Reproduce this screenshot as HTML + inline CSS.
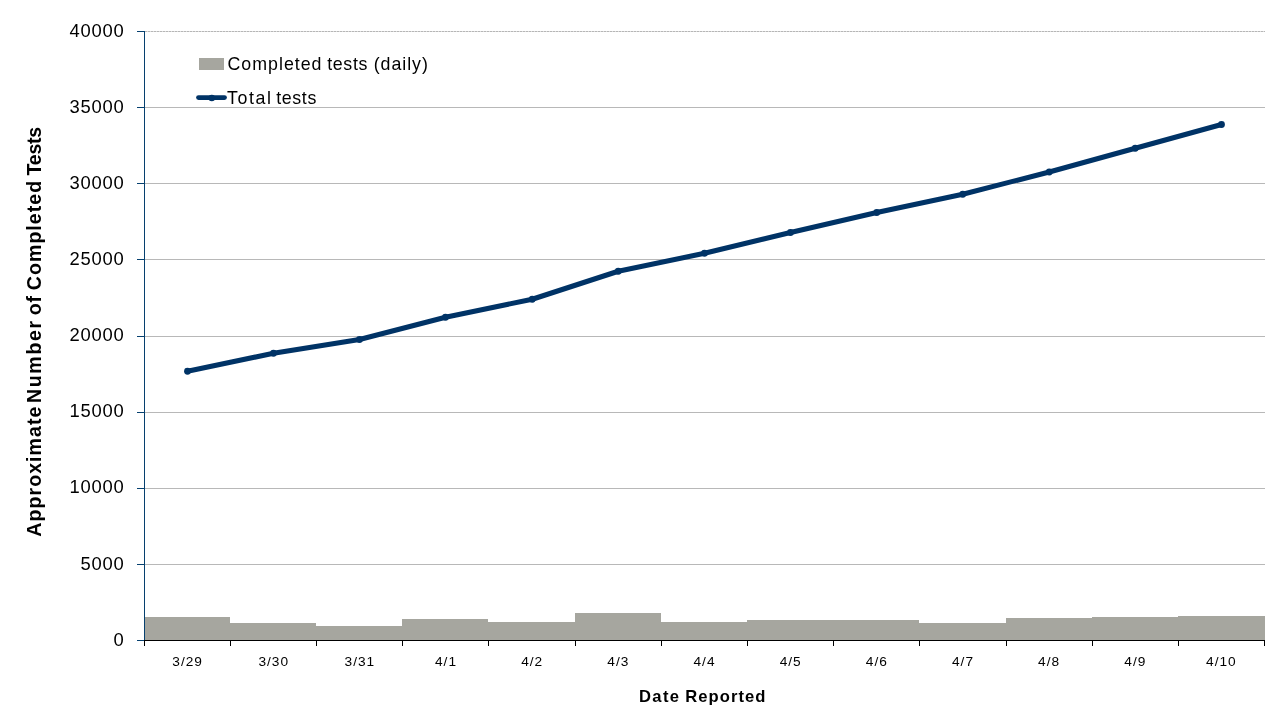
<!DOCTYPE html>
<html lang="en"><head><meta charset="utf-8"><title>Completed tests by date reported</title>
<style>
html,body{margin:0;padding:0;background:#fff;}
body{width:1280px;height:720px;overflow:hidden;font-family:"Liberation Sans",sans-serif;}
svg{display:block;}
text{font-family:"Liberation Sans",sans-serif;fill:#000;}
.yl{font-size:18.4px;text-anchor:end;letter-spacing:0.75px;}
.xl{font-size:13.7px;text-anchor:middle;letter-spacing:1.0px;}
.lg{font-size:17.8px;}
.xt{font-size:16.6px;font-weight:bold;}
.yt{font-size:19.6px;font-weight:bold;}
</style></head><body>
<svg width="1280" height="720" viewBox="0 0 1280 720">
<rect width="1280" height="720" fill="#fff"/>
<g shape-rendering="crispEdges">
<rect x="145" y="564" width="1120" height="1" fill="#b8b8b8"/>
<rect x="145" y="488" width="1120" height="1" fill="#b8b8b8"/>
<rect x="145" y="412" width="1120" height="1" fill="#b8b8b8"/>
<rect x="145" y="336" width="1120" height="1" fill="#b8b8b8"/>
<rect x="145" y="259" width="1120" height="1" fill="#b8b8b8"/>
<rect x="145" y="183" width="1120" height="1" fill="#b8b8b8"/>
<rect x="145" y="107" width="1120" height="1" fill="#b8b8b8"/>
<rect x="145" y="31" width="1120" height="1" fill="#dcdcdc"/>
<line x1="145" y1="31.5" x2="1265" y2="31.5" stroke="#b6b6b6" stroke-width="1" stroke-dasharray="2 1"/>
<rect x="145" y="617" width="85" height="23" fill="#a6a69f"/>
<rect x="230" y="623" width="86" height="17" fill="#a6a69f"/>
<rect x="316" y="626" width="86" height="14" fill="#a6a69f"/>
<rect x="402" y="619" width="86" height="21" fill="#a6a69f"/>
<rect x="488" y="622" width="87" height="18" fill="#a6a69f"/>
<rect x="575" y="613" width="86" height="27" fill="#a6a69f"/>
<rect x="661" y="622" width="86" height="18" fill="#a6a69f"/>
<rect x="747" y="620" width="86" height="20" fill="#a6a69f"/>
<rect x="833" y="620" width="86" height="20" fill="#a6a69f"/>
<rect x="919" y="623" width="87" height="17" fill="#a6a69f"/>
<rect x="1006" y="618" width="86" height="22" fill="#a6a69f"/>
<rect x="1092" y="617" width="86" height="23" fill="#a6a69f"/>
<rect x="1178" y="616" width="87" height="24" fill="#a6a69f"/>
<rect x="144" y="31" width="1" height="610" fill="#06406f"/>
<rect x="137" y="640" width="7" height="1" fill="#06406f"/>
<rect x="137" y="564" width="7" height="1" fill="#06406f"/>
<rect x="137" y="488" width="7" height="1" fill="#06406f"/>
<rect x="137" y="412" width="7" height="1" fill="#06406f"/>
<rect x="137" y="336" width="7" height="1" fill="#06406f"/>
<rect x="137" y="259" width="7" height="1" fill="#06406f"/>
<rect x="137" y="183" width="7" height="1" fill="#06406f"/>
<rect x="137" y="107" width="7" height="1" fill="#06406f"/>
<rect x="137" y="31" width="7" height="1" fill="#06406f"/>
<rect x="144" y="640" width="1121" height="1" fill="#000"/>
<rect x="144" y="640" width="1" height="6" fill="#000"/>
<rect x="230" y="640" width="1" height="6" fill="#000"/>
<rect x="316" y="640" width="1" height="6" fill="#000"/>
<rect x="402" y="640" width="1" height="6" fill="#000"/>
<rect x="488" y="640" width="1" height="6" fill="#000"/>
<rect x="575" y="640" width="1" height="6" fill="#000"/>
<rect x="661" y="640" width="1" height="6" fill="#000"/>
<rect x="747" y="640" width="1" height="6" fill="#000"/>
<rect x="833" y="640" width="1" height="6" fill="#000"/>
<rect x="919" y="640" width="1" height="6" fill="#000"/>
<rect x="1006" y="640" width="1" height="6" fill="#000"/>
<rect x="1092" y="640" width="1" height="6" fill="#000"/>
<rect x="1178" y="640" width="1" height="6" fill="#000"/>
<rect x="1264" y="640" width="1" height="6" fill="#000"/>
</g>
<polyline points="187.5,371.25 273.5,353.25 359.5,339.5 445.5,317.25 532.25,299.25 618.25,271.25 704.5,253.25 790.5,232.5 876.75,212.5 962.75,194.25 1049.25,172.0 1135.25,148.25 1221.5,124.5" fill="none" stroke="#003366" stroke-width="5" stroke-linejoin="round" stroke-linecap="round"/>
<circle cx="187.5" cy="371.25" r="3.4" fill="#003366"/>
<circle cx="273.5" cy="353.25" r="3.4" fill="#003366"/>
<circle cx="359.5" cy="339.5" r="3.4" fill="#003366"/>
<circle cx="445.5" cy="317.25" r="3.4" fill="#003366"/>
<circle cx="532.25" cy="299.25" r="3.4" fill="#003366"/>
<circle cx="618.25" cy="271.25" r="3.4" fill="#003366"/>
<circle cx="704.5" cy="253.25" r="3.4" fill="#003366"/>
<circle cx="790.5" cy="232.5" r="3.4" fill="#003366"/>
<circle cx="876.75" cy="212.5" r="3.4" fill="#003366"/>
<circle cx="962.75" cy="194.25" r="3.4" fill="#003366"/>
<circle cx="1049.25" cy="172.0" r="3.4" fill="#003366"/>
<circle cx="1135.25" cy="148.25" r="3.4" fill="#003366"/>
<circle cx="1221.5" cy="124.5" r="3.4" fill="#003366"/>
<rect x="199" y="58" width="25" height="12" fill="#a6a69f"/>
<line x1="198.5" y1="97.6" x2="224.5" y2="97.6" stroke="#003366" stroke-width="4.8" stroke-linecap="round"/>
<circle cx="211.8" cy="98" r="3.3" fill="#003366"/>
<g>
<text class="lg" x="227.5" y="69.8" style="letter-spacing:1.0px">Completed</text>
<text class="lg" x="327.25" y="69.8" style="letter-spacing:0.647px">tests</text>
<text class="lg" x="373.75" y="69.8" style="letter-spacing:0.943px">(daily)</text>
</g>
<g>
<text class="lg" x="227.1" y="103.9" style="letter-spacing:1.573px">Total</text>
<text class="lg" x="276.25" y="103.9" style="letter-spacing:0.622px">tests</text>
</g>
<text class="yl" x="124.5" y="645.7">0</text>
<text class="yl" x="124.5" y="569.6">5000</text>
<text class="yl" x="124.5" y="493.4">10000</text>
<text class="yl" x="124.5" y="417.3">15000</text>
<text class="yl" x="124.5" y="341.2">20000</text>
<text class="yl" x="124.5" y="265.1">25000</text>
<text class="yl" x="124.5" y="188.9">30000</text>
<text class="yl" x="124.5" y="112.8">35000</text>
<text class="yl" x="124.5" y="36.7">40000</text>
<text class="xl" x="187.6" y="665.8">3/29</text>
<text class="xl" x="273.7" y="665.8">3/30</text>
<text class="xl" x="359.9" y="665.8">3/31</text>
<text class="xl" x="446.0" y="665.8">4/1</text>
<text class="xl" x="532.2" y="665.8">4/2</text>
<text class="xl" x="618.3" y="665.8">4/3</text>
<text class="xl" x="704.5" y="665.8">4/4</text>
<text class="xl" x="790.7" y="665.8">4/5</text>
<text class="xl" x="876.8" y="665.8">4/6</text>
<text class="xl" x="963.0" y="665.8">4/7</text>
<text class="xl" x="1049.1" y="665.8">4/8</text>
<text class="xl" x="1135.3" y="665.8">4/9</text>
<text class="xl" x="1221.4" y="665.8">4/10</text>
<g>
<text class="xt" x="639.0" y="702.2" style="letter-spacing:1.337px">Date</text>
<text class="xt" x="685.25" y="702.2" style="letter-spacing:1.043px">Reported</text>
</g>
<g transform="translate(41,537) rotate(-90)">
<text class="yt" x="0.3" y="0" style="letter-spacing:1.033px">Approximate</text>
<text class="yt" x="133.9" y="0" style="letter-spacing:1.659px">Number</text>
<text class="yt" x="221.7" y="0" style="letter-spacing:0.931px">of</text>
<text class="yt" x="246.8" y="0" style="letter-spacing:1.016px">Completed</text>
<text class="yt" x="361.6" y="0" style="letter-spacing:-0.308px">Tests</text>
</g>
</svg></body></html>
